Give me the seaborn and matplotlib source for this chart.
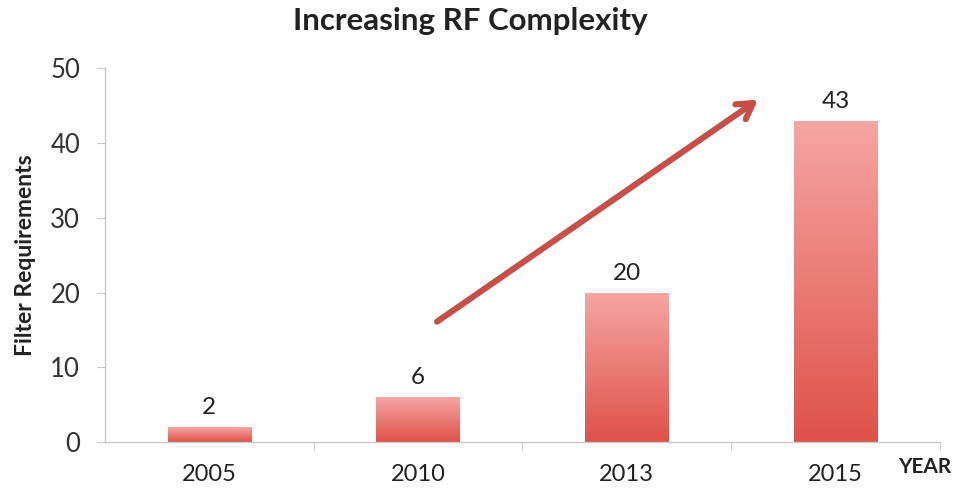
import numpy as np
import pandas as pd
import seaborn as sns
import matplotlib.pyplot as plt
from matplotlib.colors import LinearSegmentedColormap

# data
years = ["2005", "2010", "2013", "2015"]
filters = [2, 6, 20, 43]

df = pd.DataFrame({"Year": years, "Filters": filters})

sns.set_style("white")
plt.rcParams["font.family"] = ["Lato", "DejaVu Sans"]

fig = plt.figure(figsize=(9.59, 4.94), dpi=100)
ax = fig.add_axes([0.1095, 0.105, 0.8705, 0.757])

sns.barplot(data=df, x="Year", y="Filters", color="#E8706A", width=0.4,
            saturation=1, ax=ax)

# vertical gradient on every bar (pink top, red bottom)
cmap = LinearSegmentedColormap.from_list("bar", ["#DF5149", "#F6A6A3"])
grad = np.linspace(0, 1, 256).reshape(-1, 1)
for bar in ax.patches:
    x0, y0 = bar.get_x(), bar.get_y()
    w, h = bar.get_width(), bar.get_height()
    im = ax.imshow(grad, cmap=cmap, aspect="auto", origin="lower",
                   extent=[x0, x0 + w, y0, y0 + h], zorder=bar.get_zorder())
    im.set_clip_path(bar)
    bar.set_edgecolor("none")

ax.set_xlim(-0.5, 3.5)
ax.set_ylim(0, 50)
ax.set_yticks(range(0, 51, 10))

# value labels
for i, v in enumerate(filters):
    ax.text(i, v + 1.2, str(v), ha="center", va="bottom", fontsize=17.5, color="#222222")

# trend arrow
ax.annotate("", xy=(2.64, 46.0), xytext=(1.08, 15.9),
            arrowprops=dict(arrowstyle="->,head_length=1.1,head_width=0.65",
                            color="#C84E48", lw=4.4, capstyle="round"))

# axes styling
for side in ["top", "right"]:
    ax.spines[side].set_visible(False)
for side in ["left", "bottom"]:
    ax.spines[side].set_color("#C8C8C8")
    ax.spines[side].set_linewidth(1.0)

ax.tick_params(axis="y", left=True, length=6, color="#C8C8C8", labelsize=18.5,
               labelcolor="#333333", pad=12)
ax.tick_params(axis="x", bottom=False, labelsize=17, labelcolor="#222222", pad=12)
# x tick marks between categories
ax.set_xticks([0.5, 1.5, 2.5, 3.5], minor=True)
ax.tick_params(axis="x", which="minor", bottom=True, length=6, color="#C8C8C8")

ax.set_xlabel("")
ax.set_ylabel("Filter Requirements", fontsize=16.5, fontweight="bold", color="#222222",
              labelpad=10)
fig.text(0.964, 0.055, "YEAR", fontsize=15, fontweight="bold", color="#222222",
         ha="center", va="center")
fig.suptitle("Increasing RF Complexity", x=0.49, y=0.985, fontsize=22.5,
             fontweight="bold", color="#222222")

plt.savefig("out.png", dpi=100)
